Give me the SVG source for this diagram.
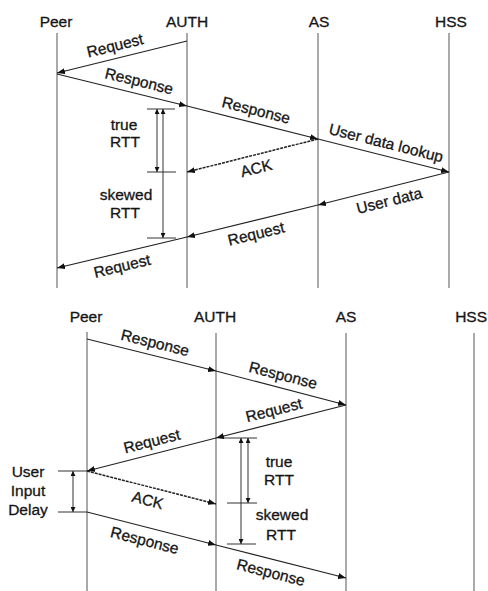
<svg xmlns="http://www.w3.org/2000/svg" width="488" height="591" viewBox="0 0 488 591">
  <style>
    text { font-family: "Liberation Sans", Arial, sans-serif; font-size: 15.5px; fill: #151515; stroke: #151515; stroke-width: 0.3; }
    .lbl { text-anchor: middle; }
    .life { stroke: #555; stroke-width: 1; fill: none; }
    .msg { stroke: #222; stroke-width: 1.1; fill: none; marker-end: url(#ah); }
    .ack { stroke: #222; stroke-width: 1.5; stroke-dasharray: 3 1; fill: none; marker-end: url(#ah); }
    .tick { stroke: #333; stroke-width: 1; fill: none; }
    .span { stroke: #333; stroke-width: 1; fill: none; marker-start: url(#sh); marker-end: url(#sh); }
  </style>
  <defs>
    <marker id="ah" viewBox="0 0 8 6" refX="8" refY="3" markerWidth="8" markerHeight="6" markerUnits="userSpaceOnUse" orient="auto">
      <path d="M0,0 L8,3 L0,6 z" fill="#111"/>
    </marker>
    <marker id="sh" viewBox="0 0 6 6" refX="6" refY="3" markerWidth="6" markerHeight="5" markerUnits="userSpaceOnUse" orient="auto-start-reverse">
      <path d="M0,0 L6,3 L0,6 z" fill="#111"/>
    </marker>
  </defs>

  <!-- ===== Upper sequence: lookup through HSS ===== -->
  <g id="top-peer">
    <text class="lbl" x="56" y="27">Peer</text>
    <line class="life" x1="57" y1="33" x2="57" y2="288"/>
  </g>
  <g id="top-auth">
    <text class="lbl" x="187" y="27">AUTH</text>
    <line class="life" x1="187" y1="33" x2="187" y2="288"/>
  </g>
  <g id="top-as">
    <text class="lbl" x="319" y="27">AS</text>
    <line class="life" x1="318" y1="33" x2="318" y2="288"/>
  </g>
  <g id="top-hss">
    <text class="lbl" x="451" y="27">HSS</text>
    <line class="life" x1="449" y1="33" x2="449" y2="288"/>
  </g>

  <g id="top-connectors">
    <line class="msg" x1="187" y1="41" x2="57" y2="73"/>
    <line class="msg" x1="57" y1="74" x2="187" y2="106"/>
    <line class="msg" x1="187" y1="106" x2="318" y2="139"/>
    <line class="msg" x1="318" y1="139" x2="449" y2="172"/>
    <line class="ack" x1="318" y1="139" x2="187" y2="172"/>
    <line class="msg" x1="449" y1="172" x2="318" y2="205"/>
    <line class="msg" x1="318" y1="205" x2="187" y2="237"/>
    <line class="msg" x1="187" y1="237" x2="57" y2="268"/>
  </g>

  <g id="top-labels">
    <text class="lbl" transform="translate(118,58) rotate(-13.8)" y="-7.5">Request</text>
    <text class="lbl" transform="translate(136,93.5) rotate(13.8)" y="-7.5">Response</text>
    <text class="lbl" transform="translate(253,122.6) rotate(14.1)" y="-7.5">Response</text>
    <text class="lbl" transform="translate(383,155.4) rotate(14.1)" y="-7.5">User data lookup</text>
    <text class="lbl" transform="translate(253,155.4) rotate(-14.1)" y="18.5">ACK</text>
    <text class="lbl" transform="translate(386,187.9) rotate(-14.1)" y="18.5">User data</text>
    <text class="lbl" transform="translate(253,220.9) rotate(-13.7)" y="18.5">Request</text>
    <text class="lbl" transform="translate(119,253.2) rotate(-13.4)" y="18.5">Request</text>
  </g>

  <g id="top-rtt">
    <line class="tick" x1="147" y1="109" x2="175" y2="109"/>
    <line class="tick" x1="147" y1="172" x2="176" y2="172"/>
    <line class="tick" x1="147" y1="238" x2="176" y2="238"/>
    <line class="span" x1="157" y1="109" x2="157" y2="172"/>
    <line class="span" x1="163" y1="109" x2="163" y2="238"/>
    <text class="lbl" x="124" y="130">true</text>
    <text class="lbl" x="125" y="147">RTT</text>
    <text class="lbl" x="126" y="200">skewed</text>
    <text class="lbl" x="125" y="218">RTT</text>
  </g>

  <!-- ===== Lower sequence: user input at the peer ===== -->
  <g id="bot-peer">
    <text class="lbl" x="86" y="322">Peer</text>
    <line class="life" x1="87" y1="332" x2="87" y2="591"/>
  </g>
  <g id="bot-auth">
    <text class="lbl" x="215" y="322">AUTH</text>
    <line class="life" x1="216" y1="333" x2="216" y2="591"/>
  </g>
  <g id="bot-as">
    <text class="lbl" x="346" y="322">AS</text>
    <line class="life" x1="346" y1="333" x2="346" y2="591"/>
  </g>
  <g id="bot-hss">
    <text x="487" y="322" text-anchor="end">HSS</text>
    <line class="life" x1="474" y1="333" x2="474" y2="591"/>
  </g>

  <g id="bot-connectors">
    <line class="msg" x1="87" y1="339" x2="216" y2="371"/>
    <line class="msg" x1="216" y1="371" x2="346" y2="405"/>
    <line class="msg" x1="346" y1="405" x2="216" y2="438"/>
    <line class="msg" x1="216" y1="438" x2="87" y2="471"/>
    <line class="ack" x1="87" y1="471" x2="216" y2="504"/>
    <line class="msg" x1="87" y1="512" x2="216" y2="545"/>
    <line class="msg" x1="216" y1="545" x2="346" y2="578"/>
  </g>

  <g id="bot-labels">
    <text class="lbl" transform="translate(152,355.2) rotate(13.9)" y="-7.5">Response</text>
    <text class="lbl" transform="translate(280,387.7) rotate(14.2)" y="-7.5">Response</text>
    <text class="lbl" transform="translate(277,422.5) rotate(-14.2)" y="-7.5">Request</text>
    <text class="lbl" transform="translate(155,453.6) rotate(-14.4)" y="-7.5">Request</text>
    <text class="lbl" transform="translate(151,487.4) rotate(14.4)" y="18.5">ACK</text>
    <text class="lbl" transform="translate(148,527.6) rotate(14.4)" y="18.5">Response</text>
    <text class="lbl" transform="translate(274,559.7) rotate(14.2)" y="18.5">Response</text>
  </g>

  <g id="bot-rtt">
    <line class="tick" x1="224" y1="438" x2="257" y2="438"/>
    <line class="tick" x1="227" y1="503" x2="257" y2="503"/>
    <line class="tick" x1="227" y1="544" x2="256" y2="544"/>
    <line class="span" x1="241" y1="438" x2="241" y2="544"/>
    <line class="span" x1="248" y1="438" x2="248" y2="503"/>
    <text class="lbl" x="279" y="467">true</text>
    <text class="lbl" x="279" y="485">RTT</text>
    <text class="lbl" x="282" y="520">skewed</text>
    <text class="lbl" x="281" y="540">RTT</text>
  </g>

  <g id="user-input-delay">
    <line class="tick" x1="58" y1="471" x2="87" y2="471"/>
    <line class="tick" x1="58" y1="512" x2="87" y2="512"/>
    <line class="span" x1="73" y1="471" x2="73" y2="512"/>
    <text class="lbl" x="28" y="477">User</text>
    <text class="lbl" x="28" y="496">Input</text>
    <text class="lbl" x="28" y="515">Delay</text>
  </g>
</svg>
